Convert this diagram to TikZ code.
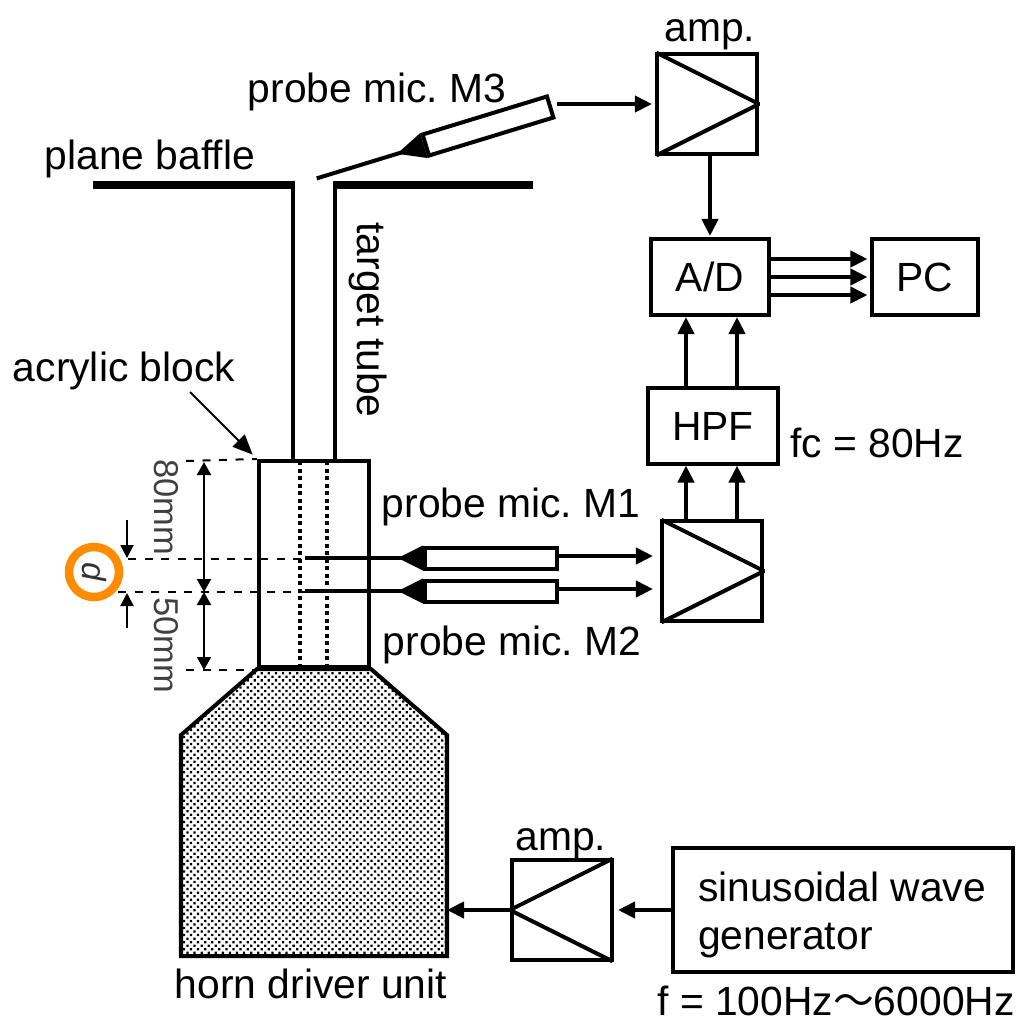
\documentclass[tikz,border=0pt]{standalone}
\usepackage{fontspec}
\setmainfont{Liberation Sans}
\newfontfamily\cjk{Noto Sans CJK JP}
\usetikzlibrary{arrows.meta, positioning, calc, patterns.meta}

\begin{document}
\begin{tikzpicture}[
    x=0.01cm, y=-0.01cm,
    font=\fontsize{11.6}{13.65}\selectfont\frenchspacing,
    line width=0.04cm,
    box/.style={rectangle, draw=black, inner sep=0pt, align=center},
    ampbox/.style={box, minimum width=1cm, minimum height=1cm},
    micbox/.style={box, fill=white, minimum width=1.32cm, minimum height=0.21cm},
    wedge/.style={line join=bevel, shorten <=0.015cm, shorten >=0.015cm},
    txt/.style={inner sep=0pt, align=left},
    dimtxt/.style={txt, rotate=-90, text=black!75, font=\fontsize{9.8}{11}\selectfont},
    arrow/.style={-{Triangle[length=0.17cm, width=0.16cm]}},
    dimarrow/.style={{Triangle[length=0.13cm, width=0.14cm]}-{Triangle[length=0.13cm, width=0.14cm]}, line width=0.02cm},
    smallarrow/.style={-{Triangle[length=0.13cm, width=0.13cm]}, line width=0.02cm},
    guide/.style={line width=0.02cm, dash pattern=on 0.08cm off 0.085cm},
    wall/.style={line width=0.08cm},
    bore/.style={line width=0.04cm, dash pattern=on 0.04cm off 0.035cm},
  ]
  \useasboundingbox (0,0) rectangle (1020,1020);

  % horn and block
  \node[box, minimum width=1.1cm, minimum height=2.06cm] (block) at (314,564) {};
  \coordinate (hornNE) at (447,735);
  \coordinate (hornSE) at (447,956);
  \coordinate (hornSW) at (181,956);
  \coordinate (hornNW) at (181,735);
  \filldraw[fill=white, pattern={Dots[distance=0.05cm, radius=0.016cm, angle=45]}]
    (block.south west) -- (block.south east) -- (hornNE) -- (hornSE) -- (hornSW) -- (hornNW) -- cycle;

  % baffle and tube
  \coordinate (baffleL) at (93,185);
  \coordinate (baffleR) at (533,185);
  \coordinate (tubeL) at (293,181);
  \coordinate (tubeR) at (335,181);
  \draw[wall] (baffleL) -- (baffleL -| tubeL);
  \draw[wall] (baffleR -| tubeR) -- (baffleR);
  \draw (tubeL) -- (tubeL |- block.north);
  \draw (tubeR) -- (tubeR |- block.north);
  \draw[bore] (300,461) -- (300,667);
  \draw[bore] (327,461) -- (327,667);

  % dimensions
  \coordinate (dimTop) at (186,461);
  \coordinate (dimA) at (128,559);
  \coordinate (dimB) at (118,592);
  \coordinate (dimBot) at (186,670);
  \draw[guide] (dimTop) -- (block.north west);
  \draw[guide] (dimA) -- (305,559);
  \draw[guide] (dimB) -- (305,592);
  \draw[guide] (dimBot) -- (block.south west |- dimBot);
  \draw[dimarrow] (204,462) -- (204,592);
  \draw[dimarrow] (204,592) -- (204,670);
  \draw[smallarrow] (127,520) -- (127,558);
  \draw[smallarrow] (127,628) -- (127,593);

  \node[dimtxt] (len80) at (166,507) {80mm};
  \node[dimtxt] (len50) at (166,645) {50mm};
  \node[circle, draw=orange!90!yellow, line width=0.085cm, minimum size=0.5cm, inner sep=0pt, rotate=-90,
    font=\fontsize{9.5}{11}\itshape\selectfont, text=black!80] (gap) at (94,572) {d};

  % probe mics
  \node[micbox] (micA) at (491,558) {};
  \node[micbox] (micB) at (491,591) {};
  \node[micbox, rotate=17, minimum width=1.3cm, minimum height=0.22cm] (micC) at (488,126) {};
  \foreach \m/\endx in {micA/305, micB/305} {
    \coordinate (\m tip) at ($(\m.west)!-0.25cm!(\m.east)$);
    \fill (\m.north west) -- (\m tip) -- (\m.south west) -- cycle;
    \draw (\m.west) -- (\m.west -| \endx,0);
  }
  \coordinate (micCtip) at ($(micC.west)!-0.28cm!(micC.east)$);
  \coordinate (micCend) at ($(micC.west)!-1.12cm!(micC.east)$);
  \fill (micC.north west) -- (micCtip) -- (micC.south west) -- cycle;
  \draw (micC.west) -- (micCend);

  % signal chain
  \node[ampbox] (ampC) at (707,104) {};
  \node[ampbox] (ampB) at (712,571) {};
  \node[ampbox] (ampA) at (562,910) {};
  \node[box, minimum width=1.17cm, minimum height=0.76cm] (adc) at (710,277) {A/D};
  \node[box, minimum width=1.05cm, minimum height=0.76cm] (pc) at (925,277) {PC};
  \node[box, minimum width=1.3cm, minimum height=0.75cm] (hpf) at (713,426) {HPF};
  \node[box, minimum width=3.39cm, minimum height=1.24cm] (gen) at (843,910)
    {\hspace*{-0.02cm}\begin{tabular}{@{}l@{}}\rule{0pt}{0.455cm}sinusoidal wave\\generator\end{tabular}};

  \draw[wedge] (ampC.north west) -- (ampC.east) -- (ampC.south west);
  \draw[wedge] (ampB.north west) -- (ampB.east) -- (ampB.south west);
  \draw[wedge] (ampA.north east) -- (ampA.west) -- (ampA.south east);

  \coordinate (micCout) at (557,104);
  \draw[arrow, shorten >=0.03cm] (micCout) -- (ampC.west);
  \draw[arrow, shorten >=0.01cm] (adc.north |- ampC.south) -- (adc.north);
  \draw[arrow, shorten >=0.07cm] ([yshift=0.02cm]micA.east) -- ([yshift=0.02cm]micA.east -| ampB.west);
  \draw[arrow, shorten >=0.07cm] ([yshift=0.02cm]micB.east) -- ([yshift=0.02cm]micB.east -| ampB.west);
  \foreach \dy in {-0.18,0,0.18} {
    \draw[arrow, shorten >=0.03cm] ([yshift=\dy cm]adc.east) -- ([yshift=\dy cm]pc.west);
  }
  \foreach \dx in {-0.27,0.24} {
    \draw[arrow] ([xshift=\dx cm]hpf.north) -- ([xshift=\dx cm]hpf.north |- adc.south);
    \draw[arrow] ([xshift=\dx cm]ampB.north -| hpf.north) -- ([xshift=\dx cm]hpf.south);
  }
  \draw[arrow, shorten >=0.04cm] (gen.west) -- (ampA.east);
  \draw[arrow] (ampA.west) -- (hornNE |- ampA.west);

  % labels
  \node[txt] (ampClabel) at (710,35) {amp.};
  \node[txt] (ampAlabel) at (561,844) {amp.};
  \node[txt] (micClabel) at (377,92) {probe mic. M3};
  \node[txt] (micAlabel) at (511,507) {probe mic. M1};
  \node[txt] (micBlabel) at (512,645) {probe mic. M2};
  \node[txt] (baffle) at (150,159) {plane baffle};
  \node[txt, rotate=-90] (tube) at (368,320) {target tube};
  \node[txt] (acrylic) at (124,371) {acrylic block};
  \node[txt] (fc) at (877,443) {fc = 80Hz};
  \node[txt] (horn) at (311,984) {horn driver unit};
  \node[txt] (freq) at (836,1001) {f = 100Hz\smash{\cjk ～}6000Hz};
  \coordinate (acrylicfrom) at (190,392);
  \draw[-{Triangle[length=0.2cm, width=0.17cm]}, line width=0.02cm, shorten >=0.06cm] (acrylicfrom) -- (block.north west);
\end{tikzpicture}
\end{document}
